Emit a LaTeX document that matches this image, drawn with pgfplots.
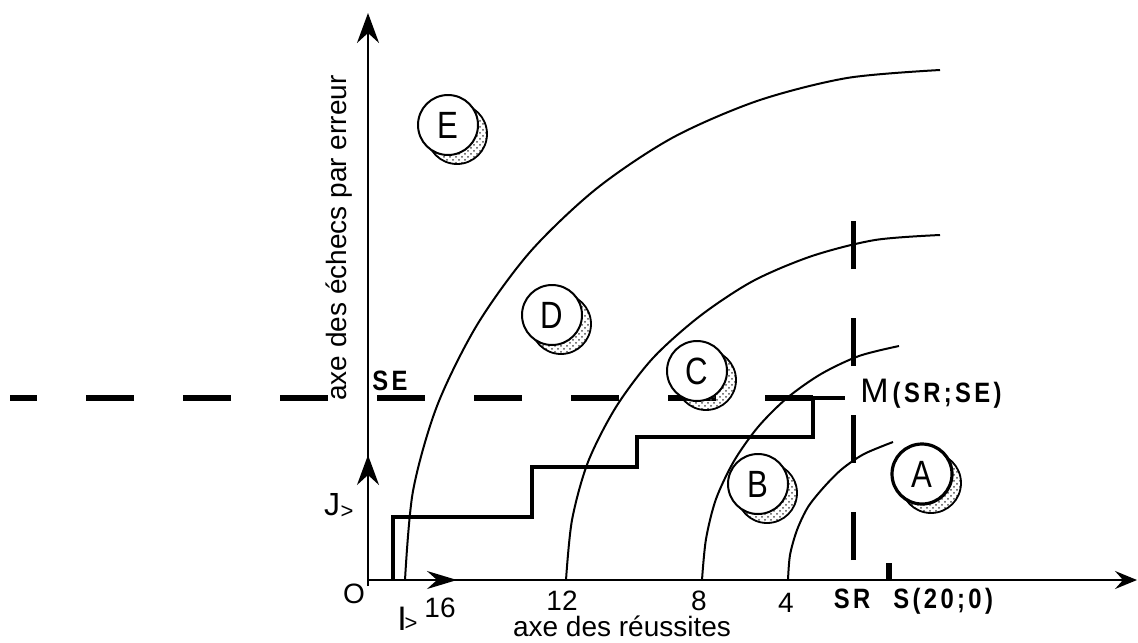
\documentclass[border=0pt]{standalone}
\usepackage{fontspec}
\setmainfont{Liberation Sans}
\newfontfamily\cond[FakeStretch=0.85,LetterSpace=12]{Liberation Sans}
\newfontfamily\narrow[FakeStretch=0.82]{Liberation Sans}
\usepackage{pgfplots}
\pgfplotsset{compat=1.18}
\usetikzlibrary{arrows.meta,patterns}

\newcommand{\fs}[1]{\fontsize{#1}{#1}\selectfont}

\begin{document}
\begin{tikzpicture}
\begin{axis}[
    width=569pt, height=318.5pt, scale only axis,
    xmin=0, xmax=1138, ymin=0, ymax=637, y dir=reverse,
    hide axis, clip=false,
    ]
  % frame of the picture
  \addplot[draw=none] coordinates {(0,0) (1138,637)};

  % circles with their shadows
  \addplot[only marks, mark=*, mark size=15pt,
           mark options={draw=black, line width=0.9pt, pattern=crosshatch dots, pattern color=black!70}]
    coordinates {(457,134) (561,324) (706,380) (767,493) (931,483)};
  \addplot[only marks, mark=*, mark size=15pt,
           mark options={draw=black, line width=1pt, fill=white},
           point meta=explicit symbolic, nodes near coords,
           nodes near coords align={center},
           every node near coord/.append style={font=\narrow\fs{19}}]
    coordinates {(448,125) [E] (552,315) [D] (697,371) [C] (758,484) [B]};
  \addplot[only marks, mark=*, mark size=15pt,
           mark options={draw=black, line width=1.6pt, fill=white},
           point meta=explicit symbolic, nodes near coords,
           nodes near coords align={center},
           every node near coord/.append style={font=\narrow\fs{19}}]
    coordinates {(922,474) [A]};

  % arcs
  \addplot[black, line width=1pt, smooth] coordinates {
    (405,580) (413,491) (437,406) (477,325) (530,252)
    (596,189) (672,138) (757,101) (847,78) (940,70)};
  \addplot[black, line width=1pt, smooth] coordinates {
    (566,580) (572,520) (588,462) (616,407) (653,358)
    (700,316) (753,281) (812,256) (875,240) (940,235)};
  \addplot[black, line width=1pt, smooth] coordinates {
    (702,580) (706,539) (716,499) (734,461) (758,427)
    (787,398) (821,374) (859,356) (899,346)};
  \addplot[black, line width=1pt, smooth] coordinates {
    (788,580) (790,555) (797,530) (808,507) (824,487)
    (842,469) (864,454) (893,442)};

  % thresholds SE and SR
  \addplot[black, line width=3pt, dash pattern=on 24pt off 24.5pt]
    coordinates {(813,398) (10,398)};
  \addplot[black, line width=2.5pt, dash pattern=on 24pt off 24.5pt]
    coordinates {(853,560) (853,218)};

  % staircase path
  \addplot[black, line width=2.3pt, line join=miter] coordinates {
    (393,580) (393,517) (532,517) (532,467) (637,467)
    (637,437) (813,437) (813,398) (845,398)};

  % axes
  \addplot[black, line width=1pt,
           -{Stealth[length=15pt, width=11pt, inset=5pt]}]
    coordinates {(368,586) (368,13)};
  \addplot[black, line width=1pt,
           -{Stealth[length=11pt, width=9pt, inset=4pt]}]
    coordinates {(368,580) (1137,580)};
  \addplot[black, line width=1pt,
           -{Stealth[length=15pt, width=11pt, inset=5pt]}]
    coordinates {(368,520) (368,455)};
  \addplot[black, line width=1pt,
           -{Stealth[length=15pt, width=9pt, inset=5pt]}]
    coordinates {(400,580) (457,580)};
  \addplot[black, line width=3pt] coordinates {(889,563) (889,580)};

  % labels
  \node[rotate=90, font=\fs{14}] at (axis cs:339,238) {axe des échecs par erreur};
  \node[anchor=base, font=\fs{14}] at (axis cs:622,636) {axe des réussites};
  \node[anchor=base, font=\fs{14}] at (axis cs:440,617) {16};
  \node[anchor=base, font=\fs{14}] at (axis cs:562,610) {12};
  \node[anchor=base, font=\fs{14}] at (axis cs:699,610) {8};
  \node[anchor=base, font=\fs{14}] at (axis cs:786,612) {4};
  \node[anchor=base, font=\fs{14}] at (axis cs:354,603) {O};
  \node[anchor=base, font=\fs{16}] at (axis cs:332,515) {J};
  \node[font=\fs{11}] at (axis cs:347,512) {>};
  \node[anchor=base, font=\fs{17}] at (axis cs:402,630) {I};
  \node[font=\fs{11}] at (axis cs:411,624) {>};
  \node[anchor=base west, inner sep=0pt, font=\cond\bfseries\fs{14}]
    at (axis cs:372,390) {SE};
  \node[anchor=base west, inner sep=0pt] at (axis cs:860,402)
    {{\fs{17}M}\hspace{2pt}{\cond\bfseries\fs{14}(SR;SE)}};
  \node[anchor=base, inner sep=0pt, font=\cond\bfseries\fs{14}]
    at (axis cs:852,608) {SR};
  \node[anchor=base west, inner sep=0pt, font=\cond\bfseries\fs{14}]
    at (axis cs:893,608) {S(20;0)};
\end{axis}
\end{tikzpicture}
\end{document}
